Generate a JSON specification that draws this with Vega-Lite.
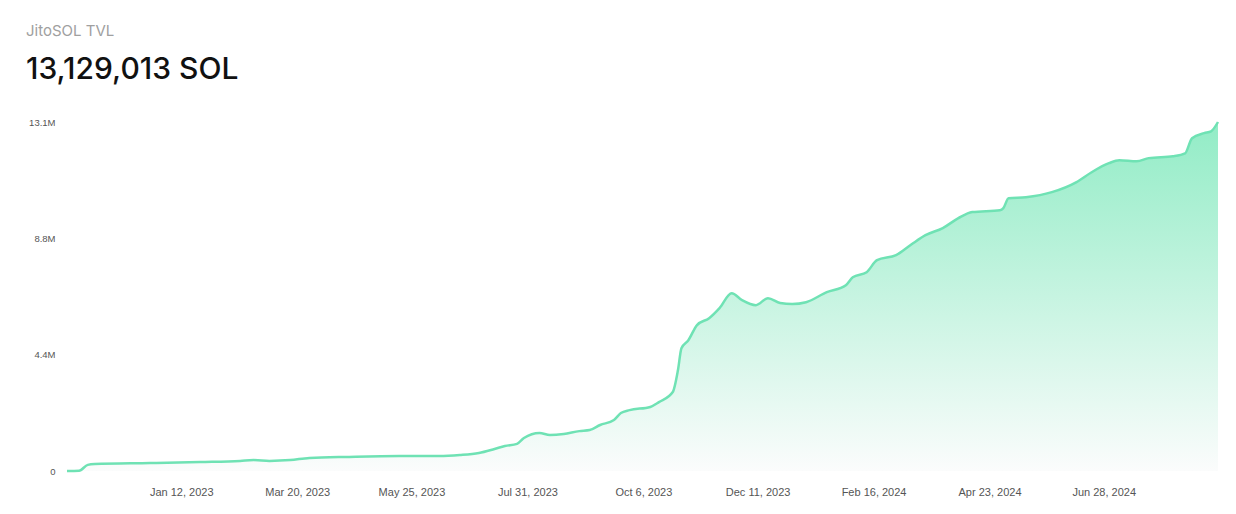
{
  "$schema": "https://vega.github.io/schema/vega-lite/v6.json",
  "width": 1151,
  "height": 349,
  "autosize": {"type": "none"},
  "padding": {"left": 67, "top": 122, "right": 18, "bottom": 43},
  "background": "#ffffff",
  "title": {
    "text": "JitoSOL TVL",
    "subtitle": "13,129,013 SOL",
    "anchor": "start",
    "frame": "group",
    "dx": -41,
    "offset": 32,
    "font": "Inter",
    "fontSize": 15,
    "fontWeight": 400,
    "color": "#a0a0a0",
    "subtitleFont": "Inter",
    "subtitleFontSize": 30,
    "subtitleFontWeight": 500,
    "subtitleColor": "#111111",
    "subtitlePadding": 16
  },
  "data": {
    "values": [
      {"date": "2022-11-07", "tvl": 0},
      {"date": "2022-11-14", "tvl": 10000},
      {"date": "2022-11-19", "tvl": 230000},
      {"date": "2022-11-23", "tvl": 260000},
      {"date": "2022-12-25", "tvl": 300000},
      {"date": "2023-01-23", "tvl": 340000},
      {"date": "2023-02-15", "tvl": 380000},
      {"date": "2023-02-23", "tvl": 410000},
      {"date": "2023-03-04", "tvl": 380000},
      {"date": "2023-03-16", "tvl": 410000},
      {"date": "2023-03-27", "tvl": 490000},
      {"date": "2023-04-19", "tvl": 530000},
      {"date": "2023-05-18", "tvl": 560000},
      {"date": "2023-06-10", "tvl": 560000},
      {"date": "2023-06-22", "tvl": 600000},
      {"date": "2023-07-03", "tvl": 680000},
      {"date": "2023-07-12", "tvl": 830000},
      {"date": "2023-07-18", "tvl": 940000},
      {"date": "2023-07-25", "tvl": 1020000},
      {"date": "2023-07-29", "tvl": 1240000},
      {"date": "2023-08-07", "tvl": 1430000},
      {"date": "2023-08-13", "tvl": 1350000},
      {"date": "2023-08-21", "tvl": 1390000},
      {"date": "2023-08-30", "tvl": 1500000},
      {"date": "2023-09-05", "tvl": 1540000},
      {"date": "2023-09-11", "tvl": 1730000},
      {"date": "2023-09-19", "tvl": 1920000},
      {"date": "2023-09-23", "tvl": 2180000},
      {"date": "2023-09-28", "tvl": 2290000},
      {"date": "2023-10-10", "tvl": 2410000},
      {"date": "2023-10-15", "tvl": 2590000},
      {"date": "2023-10-23", "tvl": 2970000},
      {"date": "2023-10-26", "tvl": 3800000},
      {"date": "2023-10-28", "tvl": 4620000},
      {"date": "2023-11-01", "tvl": 4920000},
      {"date": "2023-11-06", "tvl": 5490000},
      {"date": "2023-11-13", "tvl": 5750000},
      {"date": "2023-11-19", "tvl": 6130000},
      {"date": "2023-11-26", "tvl": 6690000},
      {"date": "2023-12-02", "tvl": 6430000},
      {"date": "2023-12-10", "tvl": 6240000},
      {"date": "2023-12-17", "tvl": 6500000},
      {"date": "2023-12-24", "tvl": 6320000},
      {"date": "2023-12-31", "tvl": 6280000},
      {"date": "2024-01-08", "tvl": 6350000},
      {"date": "2024-01-20", "tvl": 6730000},
      {"date": "2024-01-31", "tvl": 6990000},
      {"date": "2024-02-04", "tvl": 7290000},
      {"date": "2024-02-12", "tvl": 7480000},
      {"date": "2024-02-18", "tvl": 7930000},
      {"date": "2024-02-29", "tvl": 8120000},
      {"date": "2024-03-09", "tvl": 8530000},
      {"date": "2024-03-17", "tvl": 8870000},
      {"date": "2024-03-27", "tvl": 9140000},
      {"date": "2024-04-05", "tvl": 9510000},
      {"date": "2024-04-13", "tvl": 9740000},
      {"date": "2024-04-29", "tvl": 9810000},
      {"date": "2024-05-01", "tvl": 9890000},
      {"date": "2024-05-04", "tvl": 10260000},
      {"date": "2024-05-14", "tvl": 10300000},
      {"date": "2024-05-29", "tvl": 10490000},
      {"date": "2024-06-12", "tvl": 10860000},
      {"date": "2024-06-21", "tvl": 11240000},
      {"date": "2024-07-01", "tvl": 11580000},
      {"date": "2024-07-07", "tvl": 11690000},
      {"date": "2024-07-17", "tvl": 11650000},
      {"date": "2024-07-24", "tvl": 11770000},
      {"date": "2024-08-07", "tvl": 11840000},
      {"date": "2024-08-14", "tvl": 11950000},
      {"date": "2024-08-18", "tvl": 12520000},
      {"date": "2024-08-25", "tvl": 12710000},
      {"date": "2024-08-29", "tvl": 12780000},
      {"date": "2024-09-02", "tvl": 13129013}
    ]
  },
  "encoding": {
    "x": {
      "field": "date",
      "type": "temporal",
      "title": null,
      "scale": {"type": "utc", "nice": false},
      "axis": {
        "values": [
          {"year": 2023, "month": 1, "date": 12, "utc": true},
          {"year": 2023, "month": 3, "date": 20, "utc": true},
          {"year": 2023, "month": 5, "date": 25, "utc": true},
          {"year": 2023, "month": 7, "date": 31, "utc": true},
          {"year": 2023, "month": 10, "date": 6, "utc": true},
          {"year": 2023, "month": 12, "date": 11, "utc": true},
          {"year": 2024, "month": 2, "date": 16, "utc": true},
          {"year": 2024, "month": 4, "date": 23, "utc": true},
          {"year": 2024, "month": 6, "date": 28, "utc": true}
        ],
        "labelExpr": "utcFormat(datum.value, '%b %-d, %Y')",
        "domain": false,
        "ticks": false,
        "grid": false,
        "labelFont": "Liberation Sans",
        "labelFontSize": 11,
        "labelColor": "#555555",
        "labelPadding": 15
      }
    },
    "y": {
      "field": "tvl",
      "type": "quantitative",
      "title": null,
      "scale": {"domain": [0, 13129013], "nice": false},
      "axis": {
        "values": [0, 4376338, 8752675, 13129013],
        "labelExpr": "datum.value == 0 ? '0' : format(datum.value / 1000000, '.1f') + 'M'",
        "domain": false,
        "ticks": false,
        "grid": false,
        "labelFont": "Liberation Sans",
        "labelFontSize": 9.5,
        "labelColor": "#555555",
        "labelPadding": 12
      }
    }
  },
  "layer": [
    {
      "mark": {
        "type": "area",
        "interpolate": "monotone",
        "fill": {
          "gradient": "linear",
          "x1": 1, "y1": 1, "x2": 1, "y2": 0,
          "stops": [
            {"offset": 0, "color": "#fbfcfc"},
            {"offset": 1, "color": "#92ecc6"}
          ]
        }
      }
    },
    {
      "mark": {
        "type": "line",
        "interpolate": "monotone",
        "color": "#6fe2b4",
        "strokeWidth": 2.5
      }
    }
  ],
  "config": {
    "view": {"stroke": null}
  }
}
